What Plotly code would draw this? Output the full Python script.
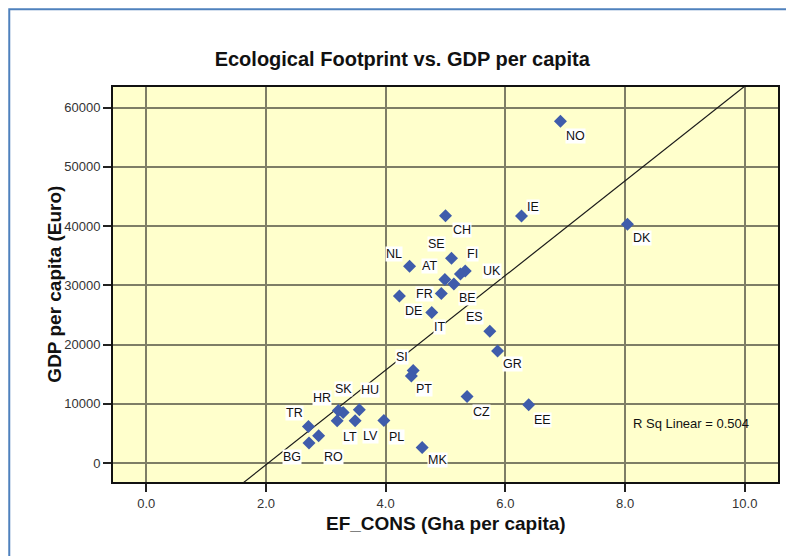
import plotly.graph_objects as go

# country codes, ecological footprint (gha per capita), GDP per capita (Euro)
countries = ["NO", "IE", "DK", "CH", "SE", "FI", "UK", "NL", "AT", "BE",
             "FR", "DE", "IT", "ES", "GR", "SI", "PT", "CZ", "EE", "HU",
             "SK", "HR", "TR", "LT", "LV", "PL", "RO", "BG", "MK"]
ef_cons = [6.92, 6.27, 8.04, 5.00, 5.10, 5.33, 5.25, 4.40, 4.99, 5.14,
           4.93, 4.23, 4.77, 5.74, 5.87, 4.46, 4.43, 5.36, 6.39, 3.56,
           3.29, 3.21, 2.71, 3.19, 3.49, 3.97, 2.88, 2.72, 4.61]
gdp = [57700, 41700, 40300, 41750, 34550, 32400, 31900, 33200, 31000, 30200,
       28600, 28200, 25400, 22250, 18930, 15600, 14700, 11230, 9830, 8980,
       8530, 8870, 6170, 7130, 7130, 7180, 4600, 3370, 2630]

# linear fit as printed by the chart
FIT_INTERCEPT = -16290
FIT_SLOPE = 7990
R_SQ = 0.504

X_RANGE = [-0.555, 10.555]
Y_RANGE = [-3200, 63470]

# label offsets in pixels (dx right, dy down)
LABEL_OFFSETS = {
    "NO": (15, 15), "IE": (11, -9), "DK": (15, 14), "CH": (16, 14),
    "SE": (-15, -14), "FI": (7, -17), "UK": (32, -3), "NL": (-16, -12),
    "AT": (-15, -13), "BE": (14, 14), "FR": (-17, 0), "DE": (14, 15),
    "IT": (8, 14), "ES": (-15, -14), "GR": (15, 13), "SI": (-11, -14),
    "PT": (13, 13), "CZ": (14, 15), "EE": (14, 15), "HU": (11, -20),
    "SK": (0, -24), "HR": (-16, -12), "TR": (-14, -13), "LT": (13, 16),
    "LV": (15, 15), "PL": (13, 16), "RO": (15, 21), "BG": (-17, 14),
    "MK": (15, 13),
}

FONT = "Arial, Liberation Sans, sans-serif"
BG_YELLOW = "#FFFFCC"
GRID = "#7E7E66"
MARKER_BLUE = "#3F5CAB"
FRAME_BLUE = "#4F81BD"

fig = go.Figure()

fit_x = X_RANGE
fit_y = [FIT_INTERCEPT + FIT_SLOPE * v for v in fit_x]
fig.add_trace(go.Scatter(
    x=fit_x, y=fit_y, mode="lines",
    line=dict(color="#1a1a1a", width=1.2),
    hoverinfo="skip", showlegend=False,
))

fig.add_trace(go.Scatter(
    x=ef_cons, y=gdp, mode="markers",
    marker=dict(symbol="diamond", size=10, color=MARKER_BLUE),
    text=countries,
    hovertemplate="%{text}<br>EF: %{x}<br>GDP: %{y}<extra></extra>",
    showlegend=False,
))

for c, xv, yv in zip(countries, ef_cons, gdp):
    dx, dy = LABEL_OFFSETS[c]
    fig.add_annotation(
        x=xv, y=yv, text=c, showarrow=False,
        xshift=dx, yshift=-dy,
        font=dict(family=FONT, size=12.5, color="#111"),
        bgcolor="white", borderpad=0,
    )

fig.add_annotation(
    x=9.1, y=6600, text=f"R Sq Linear = {R_SQ:.3f}", showarrow=False,
    xanchor="center", yanchor="middle",
    font=dict(family=FONT, size=13, color="#111"),
)

# axis titles
fig.add_annotation(
    xref="paper", yref="paper", x=0.5, y=-0.106,
    xanchor="center", yanchor="middle",
    text="<b>EF_CONS (Gha per capita)</b>", showarrow=False,
    font=dict(family=FONT, size=19, color="#111"),
)
fig.add_annotation(
    xref="paper", yref="paper", x=-0.0885, y=0.5, textangle=-90,
    xanchor="center", yanchor="middle",
    text="<b>GDP per capita (Euro)</b>", showarrow=False,
    font=dict(family=FONT, size=19, color="#111"),
)

# outer frame (only top and left edges fall inside the picture)
fig.add_shape(
    type="rect", xref="paper", yref="paper",
    x0=-0.156, x1=1.05, y0=-0.35, y1=1.197,
    line=dict(color=FRAME_BLUE, width=2),
)

axis_common = dict(
    showgrid=True, gridcolor=GRID, gridwidth=1.5,
    zeroline=False, showline=True, mirror=True,
    linecolor="#111", linewidth=1.8,
    ticks="outside", ticklen=8, tickcolor="#222", tickwidth=1.5,
    tickfont=dict(family=FONT, size=13, color="#333"),
)

fig.update_xaxes(range=X_RANGE, dtick=2, tick0=0, tickformat=".1f", **axis_common)
fig.update_yaxes(range=Y_RANGE, dtick=10000, tick0=0, tickformat="d", **axis_common)

fig.update_layout(
    width=786, height=556,
    margin=dict(l=113, r=6, t=87, b=74),
    paper_bgcolor="white",
    plot_bgcolor=BG_YELLOW,
    title=dict(
        text="<b>Ecological Footprint vs. GDP per capita</b>",
        x=0.435, xref="paper", xanchor="center",
        y=1 - 59 / 556, yref="container", yanchor="middle",
        font=dict(family=FONT, size=20, color="#111"),
    ),
)

fig.write_html(
    "out.html",
    config={"displayModeBar": False},
    post_script="document.body.style.margin='0';",
)
